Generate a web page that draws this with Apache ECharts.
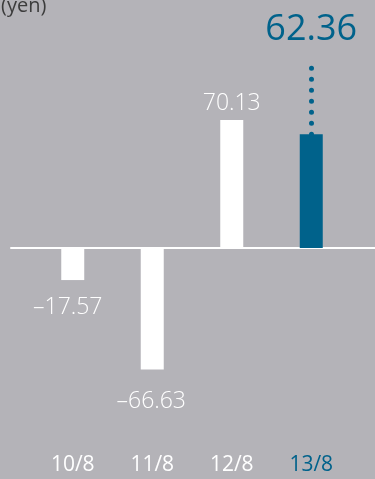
<!DOCTYPE html>
<html>
<head>
    <meta charset="utf-8">
    <title>EPS</title>
    <script src="https://cdn.jsdelivr.net/npm/echarts@6/dist/echarts.min.js"></script>
    <style>
        html, body { margin: 0; padding: 0; background: #b4b3b8; }
        #chart1 { width: 375px; height: 479px; }
    </style>
</head>
<body>
<div id="chart1"></div>
<script>
    // 数据
    var categories = ['10/8', '11/8', '12/8', '13/8'];
    var values = [-17.57, -66.63, 70.13, 62.36];
    var highlightIndex = 3;
    var leaderTop = 100;   // 虚线顶端
    var unitName = '(yen)';

    var bg = '#b4b3b8';
    var blue = '#00628b';

    function fmt(v) {
        return v < 0 ? '\u2013' + Math.abs(v).toFixed(2) : v.toFixed(2);
    }

    var barData = values.map(function (v, i) {
        var item = {
            value: v,
            itemStyle: { color: i === highlightIndex ? blue : '#ffffff' },
            label: v < 0
                ? { position: 'bottom', distance: i === 0 ? 16 : 20, offset: [i === 0 ? -5 : -1, 0] }
                : { position: 'top', distance: 5 }
        };
        if (i === highlightIndex) {
            item.label = {
                position: 'top',
                distance: 86,
                color: blue,
                fontSize: 36,
                fontWeight: 'normal'
            };
        }
        return item;
    });

    var myChart = echarts.init(document.getElementById('chart1'));

    var option = {
        backgroundColor: bg,
        animation: false,
        title: {
            text: unitName,
            left: -4,
            top: -9,
            textStyle: { color: '#3c3c3c', fontSize: 20, fontWeight: 'normal', fontFamily: 'Open Sans' }
        },
        grid: [
            { left: 33, right: 24, top: 47.25, bottom: 48.5 },
            { left: 11, right: 0, top: 47.25, bottom: 48.5 }
        ],
        xAxis: [{
            type: 'category',
            gridIndex: 0,
            data: categories,
            axisLine: { show: false, onZero: false },
            axisTick: { show: false },
            axisLabel: {
                margin: 24,
                fontSize: 21,
                fontWeight: 500,
                fontFamily: 'Open Sans',
                color: function (val, idx) {
                    return idx === highlightIndex ? blue : '#ffffff';
                }
            }
        }, {
            // 基线
            type: 'value',
            gridIndex: 1,
            min: 0,
            max: 1,
            axisLine: { show: true, onZero: true, lineStyle: { color: '#ffffff', width: 2 } },
            axisTick: { show: false },
            axisLabel: { show: false },
            splitLine: { show: false }
        }],
        yAxis: [{
            type: 'value',
            gridIndex: 0,
            min: -100,
            max: 110,
            show: false
        }, {
            type: 'value',
            gridIndex: 1,
            min: -100,
            max: 110,
            show: false
        }],
        series: [{
            type: 'bar',
            xAxisIndex: 0,
            yAxisIndex: 0,
            barWidth: 23,
            data: barData,
            label: {
                show: true,
                color: '#ffffff',
                fontSize: 23,
                fontWeight: 300,
                fontFamily: 'Open Sans',
                formatter: function (p) { return fmt(p.value); }
            },
            markLine: {
                silent: true,
                symbol: 'none',
                label: { show: false },
                lineStyle: { color: blue, width: 5, type: [0, 11], cap: 'round' },
                data: [[
                    { coord: [highlightIndex, values[highlightIndex]] },
                    { coord: [highlightIndex, leaderTop] }
                ]]
            }
        }]
    };

    myChart.setOption(option);
</script>
</body>
</html>
